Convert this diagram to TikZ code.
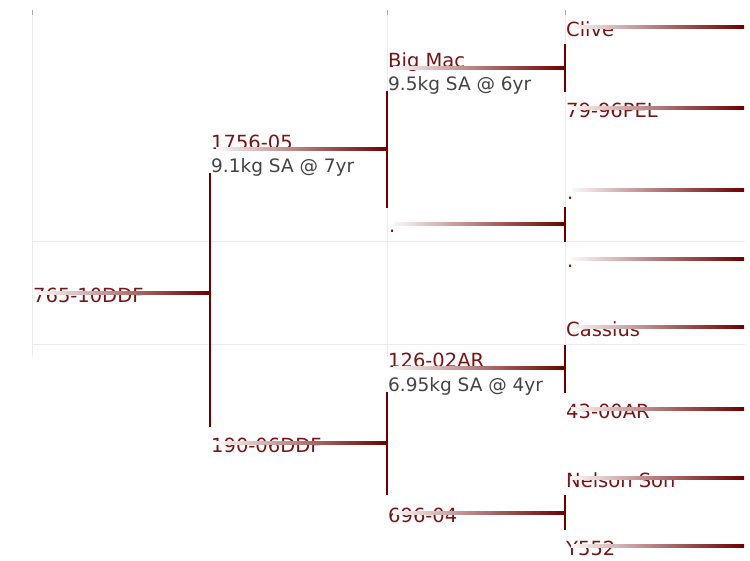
\documentclass[tikz,border=0pt]{standalone}
\usepackage{fontspec}
\setmainfont{DejaVu Sans}
\usetikzlibrary{positioning, calc}
\definecolor{lnred}{RGB}{108,0,0}
\definecolor{txred}{RGB}{122,20,20}
\definecolor{infogray}{RGB}{68,68,68}
\definecolor{gridgray}{RGB}{236,236,236}
\definecolor{tickgray}{RGB}{165,165,165}

\begin{document}
\begin{tikzpicture}[x=1pt, y=-1pt,
	pname/.style={anchor=base west, inner sep=0pt, text=txred, font=\fontsize{19.5}{22}\selectfont},
	pinfo/.style={anchor=base west, inner sep=0pt, text=infogray, font=\fontsize{18.5}{22}\selectfont},
	vline/.style={draw=lnred, line width=2pt},
	hbar/.style={left color=lnred!3, right color=lnred, middle color=lnred!52},
	gridln/.style={draw=gridgray, line width=0.8pt},
	tickln/.style={draw=tickgray, line width=0.8pt}]
	\useasboundingbox (0,0) rectangle (750,560);

	\draw[gridln] (32,10) -- (32,357);
	\draw[gridln] (387,10) -- (387,357);
	\draw[gridln] (565,10) -- (565,357);
	\draw[gridln] (32,241) -- (745,241);
	\draw[gridln] (32,344) -- (745,344);
	\draw[tickln] (32,10) -- (32,15);
	\draw[tickln] (387,10) -- (387,15);
	\draw[tickln] (565,10) -- (565,15);

	\node[pname] (root) at (33,302) {765-10DDF};
	\node[pname] (s) at (211,149) {1756-05};
	\node[pinfo] (s-info) at (211,172.5) {9.1kg SA @ 7yr};
	\node[pname] (d) at (211,452.5) {190-06DDF};
	\node[pname] (ss) at (388,67) {Big Mac};
	\node[pinfo] (ss-info) at (388,90.7) {9.5kg SA @ 6yr};
	\node[pname] (sd) at (389,232) {.};
	\node[pname] (ds) at (388,367.7) {126-02AR};
	\node[pinfo] (ds-info) at (388,391.7) {6.95kg SA @ 4yr};
	\node[pname] (dd) at (388,522) {696-04};
	\node[pname] (sss) at (566,36) {Clive};
	\node[pname] (ssd) at (566,117.3) {79-96PEL};
	\node[pname] (sds) at (567,199) {.};
	\node[pname] (sdd) at (567,267.7) {.};
	\node[pname] (dss) at (566,336.7) {Cassius};
	\node[pname] (dsd) at (566,418.3) {43-00AR};
	\node[pname] (dds) at (566,487.7) {Nelson Son};
	\node[pname] (ddd) at (566,555) {Y552};

	\coordinate (root-b) at (38,293);
	\coordinate (s-b) at (216,149);
	\coordinate (d-b) at (216,443);
	\coordinate (ss-b) at (393,67.5);
	\coordinate (sd-b) at (393,224);
	\coordinate (ds-b) at (393,368);
	\coordinate (dd-b) at (393,513);
	\coordinate (sss-b) at (571,27);
	\coordinate (ssd-b) at (571,108.3);
	\coordinate (sds-b) at (572,190);
	\coordinate (sdd-b) at (572,259);
	\coordinate (dss-b) at (571,327.3);
	\coordinate (dsd-b) at (571,409.3);
	\coordinate (dds-b) at (571,477.7);
	\coordinate (ddd-b) at (571,546);
	\coordinate (edge) at (744,0);

	\coordinate (root-t) at (210,173);
	\coordinate (root-e) at (210,427);
	\coordinate (s-t) at (387,91);
	\coordinate (s-e) at (387,207.7);
	\coordinate (d-t) at (387,392.3);
	\coordinate (d-e) at (387,495);
	\coordinate (ss-t) at (565,44.3);
	\coordinate (ss-e) at (565,91.7);
	\coordinate (sd-t) at (565,206.7);
	\coordinate (sd-e) at (565,241.7);
	\coordinate (ds-t) at (565,345);
	\coordinate (ds-e) at (565,392.7);
	\coordinate (dd-t) at (565,495);
	\coordinate (dd-e) at (565,530);

	\draw[vline] (root-t) -- (root-e);
	\draw[vline] (s-t) -- (s-e);
	\draw[vline] (d-t) -- (d-e);
	\draw[vline] (ss-t) -- (ss-e);
	\draw[vline] (sd-t) -- (sd-e);
	\draw[vline] (ds-t) -- (ds-e);
	\draw[vline] (dd-t) -- (dd-e);

	\shade[hbar] ($(root-b)+(0,-1.5)$) rectangle ($(root-t |- root-b)+(0,1.5)$);
	\shade[hbar] ($(s-b)+(0,-1.5)$) rectangle ($(s-t |- s-b)+(0,1.5)$);
	\shade[hbar] ($(d-b)+(0,-1.5)$) rectangle ($(d-t |- d-b)+(0,1.5)$);
	\shade[hbar] ($(ss-b)+(0,-1.5)$) rectangle ($(ss-t |- ss-b)+(0,1.5)$);
	\shade[hbar] ($(sd-b)+(0,-1.5)$) rectangle ($(sd-t |- sd-b)+(0,1.5)$);
	\shade[hbar] ($(ds-b)+(0,-1.5)$) rectangle ($(ds-t |- ds-b)+(0,1.5)$);
	\shade[hbar] ($(dd-b)+(0,-1.5)$) rectangle ($(dd-t |- dd-b)+(0,1.5)$);
	\shade[hbar] ($(sss-b)+(0,-1.5)$) rectangle ($(edge |- sss-b)+(0,1.5)$);
	\shade[hbar] ($(ssd-b)+(0,-1.5)$) rectangle ($(edge |- ssd-b)+(0,1.5)$);
	\shade[hbar] ($(sds-b)+(0,-1.5)$) rectangle ($(edge |- sds-b)+(0,1.5)$);
	\shade[hbar] ($(sdd-b)+(0,-1.5)$) rectangle ($(edge |- sdd-b)+(0,1.5)$);
	\shade[hbar] ($(dss-b)+(0,-1.5)$) rectangle ($(edge |- dss-b)+(0,1.5)$);
	\shade[hbar] ($(dsd-b)+(0,-1.5)$) rectangle ($(edge |- dsd-b)+(0,1.5)$);
	\shade[hbar] ($(dds-b)+(0,-1.5)$) rectangle ($(edge |- dds-b)+(0,1.5)$);
	\shade[hbar] ($(ddd-b)+(0,-1.5)$) rectangle ($(edge |- ddd-b)+(0,1.5)$);
\end{tikzpicture}
\end{document}
